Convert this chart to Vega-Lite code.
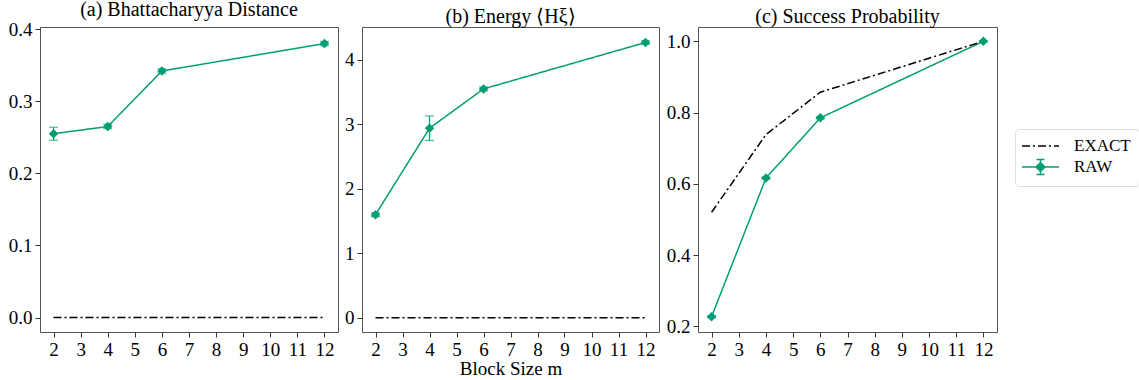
{
  "$schema": "https://vega.github.io/schema/vega-lite/v6.json",
  "padding": {"left": 7, "top": -1, "right": 2, "bottom": 0},
  "config": {
    "view": {"stroke": "#555555", "strokeWidth": 1},
    "axis": {"grid": false, "domain": false, "tickColor": "#333333", "tickSize": 5, "labelFontSize": 19, "labelColor": "black", "titleFontSize": 19, "titleColor": "black", "labelPadding": 3, "labelFont": "serif", "titleFont": "serif"},
    "title": {"font": "serif"},
    "concat": {"spacing": 5}
  },
  "datasets": {
    "d": [
      {"panel": "a", "series": "RAW", "m": 2, "v": 0.255, "lo": 0.246, "hi": 0.264},
      {"panel": "a", "series": "RAW", "m": 4, "v": 0.265, "lo": 0.262, "hi": 0.268},
      {"panel": "a", "series": "RAW", "m": 6, "v": 0.342, "lo": 0.339, "hi": 0.345},
      {"panel": "a", "series": "RAW", "m": 12, "v": 0.380, "lo": 0.377, "hi": 0.383},
      {"panel": "a", "series": "EXACT", "m": 2, "v": 0},
      {"panel": "a", "series": "EXACT", "m": 4, "v": 0},
      {"panel": "a", "series": "EXACT", "m": 6, "v": 0},
      {"panel": "a", "series": "EXACT", "m": 12, "v": 0},
      {"panel": "b", "series": "RAW", "m": 2, "v": 1.60, "lo": 1.57, "hi": 1.63},
      {"panel": "b", "series": "RAW", "m": 4, "v": 2.94, "lo": 2.75, "hi": 3.13},
      {"panel": "b", "series": "RAW", "m": 6, "v": 3.55, "lo": 3.52, "hi": 3.58},
      {"panel": "b", "series": "RAW", "m": 12, "v": 4.27, "lo": 4.24, "hi": 4.30},
      {"panel": "b", "series": "EXACT", "m": 2, "v": 0},
      {"panel": "b", "series": "EXACT", "m": 4, "v": 0},
      {"panel": "b", "series": "EXACT", "m": 6, "v": 0},
      {"panel": "b", "series": "EXACT", "m": 12, "v": 0},
      {"panel": "c", "series": "RAW", "m": 2, "v": 0.227, "lo": 0.224, "hi": 0.230},
      {"panel": "c", "series": "RAW", "m": 4, "v": 0.616, "lo": 0.613, "hi": 0.619},
      {"panel": "c", "series": "RAW", "m": 6, "v": 0.785, "lo": 0.782, "hi": 0.788},
      {"panel": "c", "series": "RAW", "m": 12, "v": 1.0, "lo": 0.998, "hi": 1.002},
      {"panel": "c", "series": "EXACT", "m": 2, "v": 0.52},
      {"panel": "c", "series": "EXACT", "m": 4, "v": 0.738},
      {"panel": "c", "series": "EXACT", "m": 6, "v": 0.857},
      {"panel": "c", "series": "EXACT", "m": 12, "v": 1.0}
    ]
  },
  "hconcat": [
    {
      "width": 298, "height": 305,
      "title": {"text": "(a) Bhattacharyya Distance", "font": "serif", "fontSize": 20, "fontWeight": "normal", "color": "black", "offset": 0},
      "data": {"name": "d"},
      "transform": [{"filter": "datum.panel == 'a'"}],
      "encoding": {
        "x": {"field": "m", "type": "quantitative", "scale": {"domain": [1.5, 12.5], "nice": false, "zero": false}, "axis": {"values": [2,3,4,5,6,7,8,9,10,11,12], "title": null}}
      },
      "layer": [
        {
          "mark": {"type": "line", "strokeWidth": 1.5},
          "encoding": {
            "y": {"field": "v", "type": "quantitative", "scale": {"domain": [-0.02, 0.403], "nice": false, "zero": false}, "axis": {"values": [0, 0.1, 0.2, 0.3, 0.4], "format": ".1f", "title": null}},
            "color": {"field": "series", "type": "nominal", "scale": {"domain": ["EXACT", "RAW"], "range": ["#000000", "#029e73"]}},
            "strokeDash": {"field": "series", "type": "nominal", "scale": {"domain": ["EXACT", "RAW"], "range": [[8, 3, 2, 3], [1, 0]]}}
          }
        },
        {
          "transform": [{"filter": "datum.series == 'RAW'"}],
          "mark": {"type": "errorbar", "ticks": {"size": 9}, "color": "#029e73", "thickness": 1.2},
          "encoding": {
            "y": {"field": "lo", "type": "quantitative", "scale": {"domain": [-0.02, 0.403], "nice": false, "zero": false}, "title": null},
            "y2": {"field": "hi"}
          }
        },
        {
          "transform": [{"filter": "datum.series == 'RAW'"}],
          "mark": {"type": "point", "filled": true, "opacity": 1, "size": 90, "shape": "diamond", "color": "#029e73"},
          "encoding": {
            "y": {"field": "v", "type": "quantitative", "scale": {"domain": [-0.02, 0.403], "nice": false, "zero": false}}
          }
        }
      ]
    },
    {
      "width": 297, "height": 305,
      "title": {"text": "(b) Energy ⟨Hξ⟩", "font": "serif", "fontSize": 20, "fontWeight": "normal", "color": "black", "offset": 0},
      "data": {"name": "d"},
      "transform": [{"filter": "datum.panel == 'b'"}],
      "encoding": {
        "x": {"field": "m", "type": "quantitative", "scale": {"domain": [1.5, 12.5], "nice": false, "zero": false}, "axis": {"values": [2,3,4,5,6,7,8,9,10,11,12], "title": "Block Size m", "titlePadding": 0, "titleFontWeight": "normal"}}
      },
      "layer": [
        {
          "mark": {"type": "line", "strokeWidth": 1.5},
          "encoding": {
            "y": {"field": "v", "type": "quantitative", "scale": {"domain": [-0.22, 4.51], "nice": false, "zero": false}, "axis": {"values": [0, 1, 2, 3, 4], "format": "d", "title": null}},
            "color": {"field": "series", "type": "nominal", "scale": {"domain": ["EXACT", "RAW"], "range": ["#000000", "#029e73"]}},
            "strokeDash": {"field": "series", "type": "nominal", "scale": {"domain": ["EXACT", "RAW"], "range": [[8, 3, 2, 3], [1, 0]]}}
          }
        },
        {
          "transform": [{"filter": "datum.series == 'RAW'"}],
          "mark": {"type": "errorbar", "ticks": {"size": 9}, "color": "#029e73", "thickness": 1.2},
          "encoding": {
            "y": {"field": "lo", "type": "quantitative", "scale": {"domain": [-0.22, 4.51], "nice": false, "zero": false}, "title": null},
            "y2": {"field": "hi"}
          }
        },
        {
          "transform": [{"filter": "datum.series == 'RAW'"}],
          "mark": {"type": "point", "filled": true, "opacity": 1, "size": 90, "shape": "diamond", "color": "#029e73"},
          "encoding": {
            "y": {"field": "v", "type": "quantitative", "scale": {"domain": [-0.22, 4.51], "nice": false, "zero": false}}
          }
        }
      ]
    },
    {
      "width": 299, "height": 305,
      "title": {"text": "(c) Success Probability", "font": "serif", "fontSize": 20, "fontWeight": "normal", "color": "black", "offset": 0},
      "data": {"name": "d"},
      "transform": [{"filter": "datum.panel == 'c'"}],
      "encoding": {
        "x": {"field": "m", "type": "quantitative", "scale": {"domain": [1.5, 12.5], "nice": false, "zero": false}, "axis": {"values": [2,3,4,5,6,7,8,9,10,11,12], "title": null}}
      },
      "layer": [
        {
          "mark": {"type": "line", "strokeWidth": 1.5},
          "encoding": {
            "y": {"field": "v", "type": "quantitative", "scale": {"domain": [0.184, 1.04], "nice": false, "zero": false}, "axis": {"values": [0.2, 0.4, 0.6, 0.8, 1.0], "format": ".1f", "title": null}},
            "color": {"field": "series", "type": "nominal", "scale": {"domain": ["EXACT", "RAW"], "range": ["#000000", "#029e73"]}},
            "strokeDash": {"field": "series", "type": "nominal", "scale": {"domain": ["EXACT", "RAW"], "range": [[8, 3, 2, 3], [1, 0]]}}
          }
        },
        {
          "transform": [{"filter": "datum.series == 'RAW'"}],
          "mark": {"type": "errorbar", "ticks": {"size": 9}, "color": "#029e73", "thickness": 1.2},
          "encoding": {
            "y": {"field": "lo", "type": "quantitative", "scale": {"domain": [0.184, 1.04], "nice": false, "zero": false}, "title": null},
            "y2": {"field": "hi"}
          }
        },
        {
          "transform": [{"filter": "datum.series == 'RAW'"}],
          "mark": {"type": "point", "filled": true, "opacity": 1, "size": 90, "shape": "diamond", "color": "#029e73"},
          "encoding": {
            "y": {"field": "v", "type": "quantitative", "scale": {"domain": [0.184, 1.04], "nice": false, "zero": false}}
          }
        },
        {
          "mark": {"type": "point", "filled": true, "opacity": 0, "size": 1},
          "encoding": {
            "y": {"field": "v", "type": "quantitative", "scale": {"domain": [0.184, 1.04], "nice": false, "zero": false}},
            "shape": {"field": "series", "type": "nominal", "scale": {"domain": ["EXACT", "RAW"], "range": ["M-1.25,0H3.375", "M-1.25,0H3.375M1.06,-0.56L1.62,0L1.06,0.56L0.5,0ZM1.06,-0.94V0.94M0.56,-0.94H1.56M0.56,0.94H1.56"]}},
            "color": {"field": "series", "type": "nominal", "scale": {"domain": ["EXACT", "RAW"], "range": ["#000000", "#029e73"]},
              "legend": {"title": null, "orient": "none", "legendX": 975, "legendY": 102, "symbolSize": 256, "labelFontSize": 17, "labelFont": "Times New Roman", "labelColor": "black", "strokeColor": "#dddddd", "cornerRadius": 4, "padding": 8, "labelOffset": 33, "rowPadding": 2, "symbolStrokeWidth": 1.5,
                "encode": {"symbols": {"update": {"fill": {"scale": "color", "field": "value"}, "stroke": {"scale": "color", "field": "value"}, "strokeDash": {"scale": "strokeDash", "field": "value"}, "opacity": {"value": 1}, "size": {"value": 256}}}}}
            }
          }
        }
      ]
    }
  ],
  "resolve": {"scale": {"color": "shared", "shape": "shared", "strokeDash": "shared"}}
}
